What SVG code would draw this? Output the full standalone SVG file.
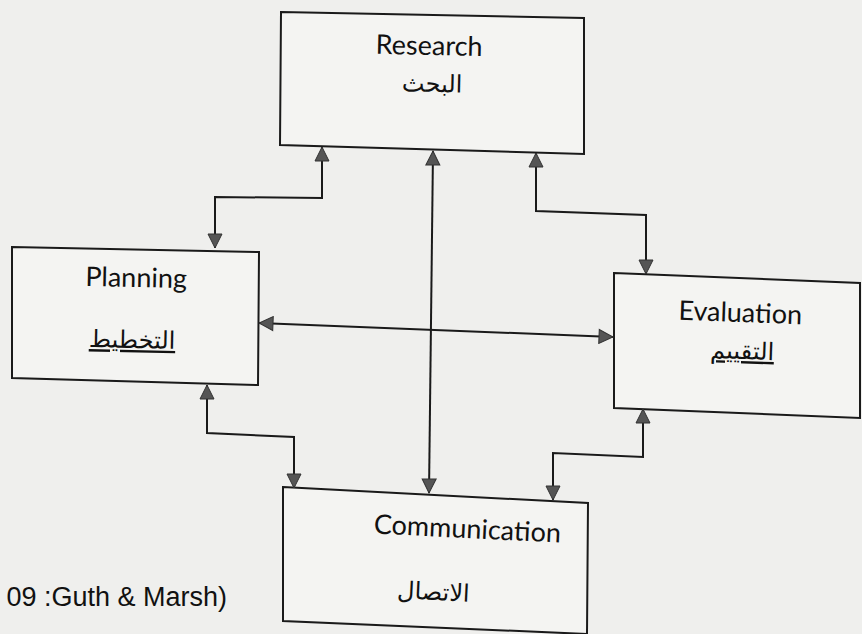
<svg xmlns="http://www.w3.org/2000/svg" width="862" height="634" viewBox="0 0 862 634">
<defs>
<style>
.box{fill:#f4f4f2;stroke:#1a1a1a;stroke-width:2;stroke-linejoin:miter}
.en{font-family:Lato,"Open Sans",sans-serif;font-size:27px;fill:#111;text-anchor:middle}
.ar{font-family:"DejaVu Sans",sans-serif;font-size:24px;fill:#111;text-anchor:middle}
.conn{fill:none;stroke:#1a1a1a;stroke-width:2;marker-start:url(#ah);marker-end:url(#ah)}
.cap{font-family:"Liberation Sans",Arial,sans-serif;font-size:27px;fill:#111;text-anchor:end}
</style>
<marker id="ah" viewBox="0 0 16 16" refX="15" refY="8" markerWidth="16" markerHeight="16" markerUnits="userSpaceOnUse" orient="auto-start-reverse">
<path d="M1,1 L15,8 L1,15 Z" fill="#555" stroke="#333" stroke-width="1"/>
</marker>
</defs>
<rect x="0" y="0" width="862" height="634" fill="#efefed"/>

<g id="research">
<path class="box" d="M281,12 L584,18 L584,154 L280,145 Z"/>
<text class="en" x="429" y="55" transform="rotate(1.3 429 55)">Research</text>
<text class="ar" x="432" y="92" transform="rotate(1.3 432 92)">البحث</text>
</g>

<g id="planning">
<path class="box" d="M12,247 L259,252 L258,385 L12,378 Z"/>
<text class="en" x="136" y="287" transform="rotate(1.2 136 287)">Planning</text>
<text class="ar" x="132" y="348" text-decoration="underline" transform="rotate(1.2 132 348)">التخطيط</text>
</g>

<g id="evaluation">
<path class="box" d="M614,273 L860,283 L860,418 L614,408 Z"/>
<text class="en" x="740" y="322" transform="rotate(2 740 322)">Evaluation</text>
<text class="ar" x="742" y="359" text-decoration="underline" transform="rotate(2 742 359)">التقييم</text>
</g>

<g id="communication">
<path class="box" d="M283,487 L588,503 L587,634 L283,621 Z"/>
<text class="en" x="467" y="538" transform="rotate(2.8 467 538)">Communication</text>
<text class="ar" x="433" y="600" transform="rotate(2.8 433 600)">الاتصال</text>
</g>

<g id="connectors">
<path class="conn" d="M322,147 L322,198 L215,197 L215,248"/>
<path class="conn" d="M433,151 L429,493"/>
<path class="conn" d="M536,153 L536,211 L646,215 L646,274"/>
<path class="conn" d="M259,323 L613,337"/>
<path class="conn" d="M207,385 L207,433 L294,437 L294,488"/>
<path class="conn" d="M643,409 L643,457 L553,453 L553,500"/>
</g>

<text class="cap" x="227" y="606">09 :Guth &amp; Marsh)</text>
</svg>
